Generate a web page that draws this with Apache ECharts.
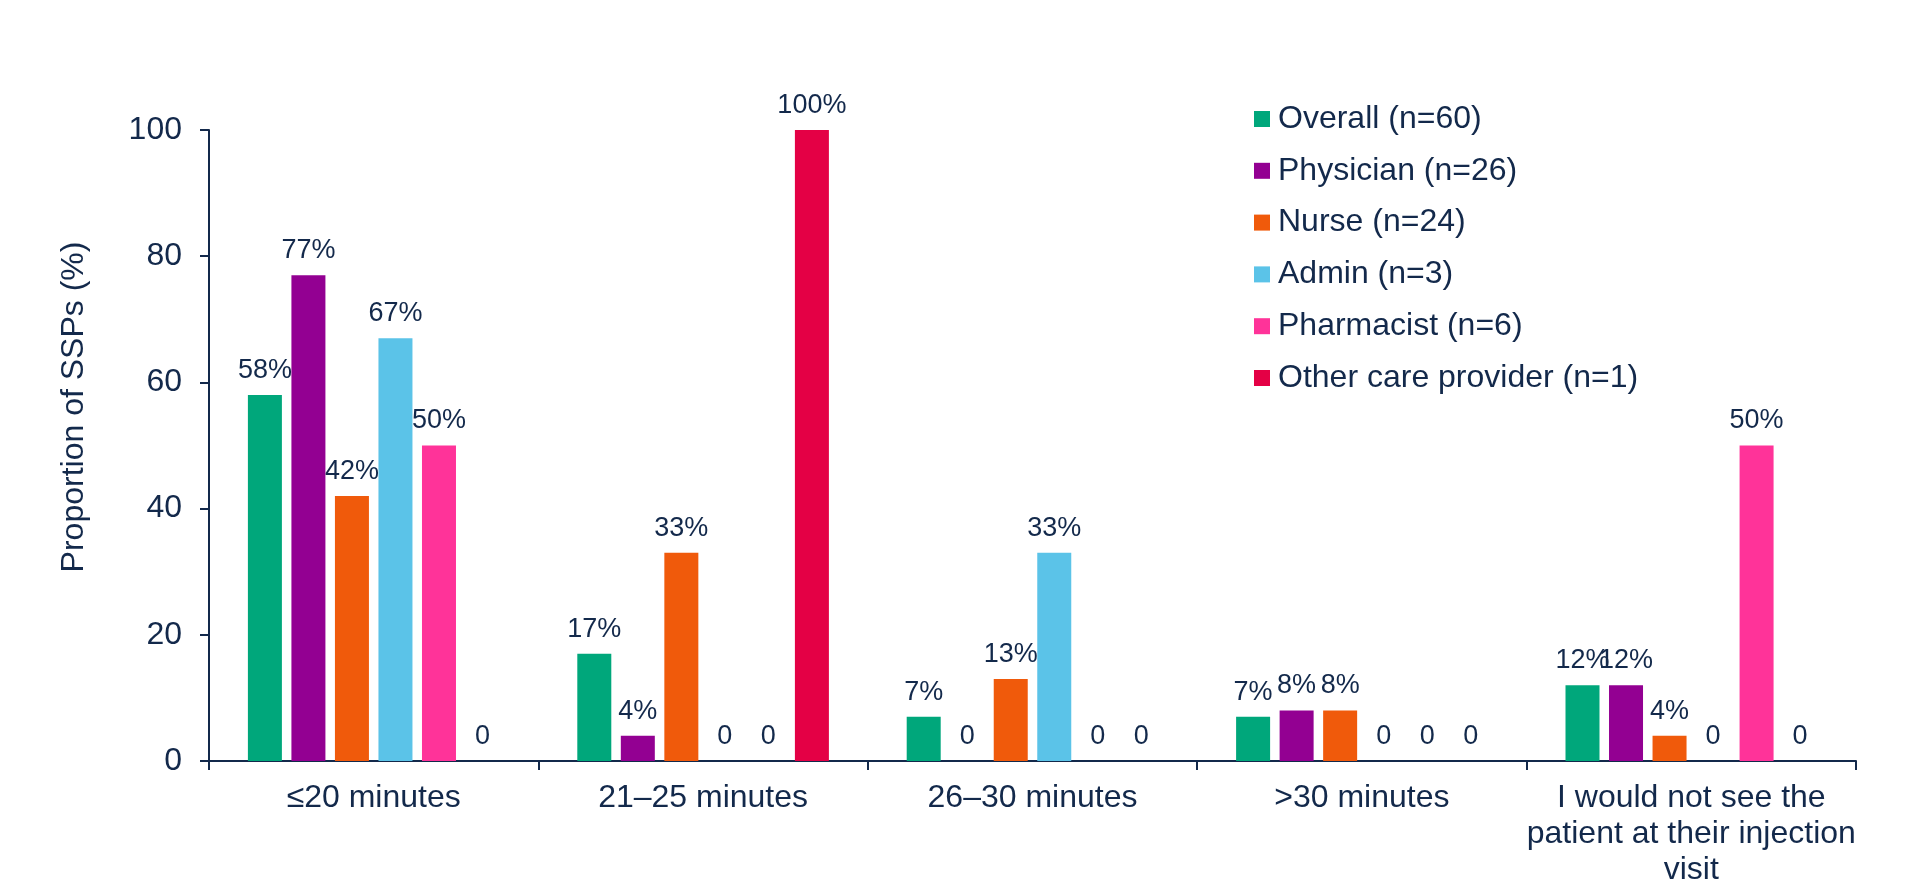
<!DOCTYPE html>
<html>
<head>
<meta charset="utf-8">
<title>Proportion of SSPs by time</title>
<script src="https://cdn.jsdelivr.net/npm/echarts@6/dist/echarts.min.js"></script>
<style>
  html, body { margin: 0; padding: 0; background: #ffffff; }
  #chart { width: 1927px; height: 892px; }
</style>
</head>
<body>
<div id="chart"></div>
<script>
// Time categories (x axis)
const categories = [
  '≤20 minutes',
  '21–25 minutes',
  '26–30 minutes',
  '>30 minutes',
  'I would not see the\npatient at their injection\nvisit'
];

// Respondent groups (legend order)
const groupNames = [
  'Overall (n=60)',
  'Physician (n=26)',
  'Nurse (n=24)',
  'Admin (n=3)',
  'Pharmacist (n=6)',
  'Other care provider (n=1)'
];

// Percentage of respondents per category, one array per group
const overall    = [58, 17, 7, 7, 12];
const physician  = [77, 4, 0, 8, 12];
const nurse      = [42, 33, 13, 8, 4];
const admin      = [67, 0, 33, 0, 0];
const pharmacist = [50, 0, 0, 0, 50];
const otherCare  = [0, 100, 0, 0, 0];

// Y axis ticks
const yTicks = [0, 20, 40, 60, 80, 100];

const groupValues = [overall, physician, nurse, admin, pharmacist, otherCare];
const groupColors = ['#00a77b', '#930092', '#f05a0b', '#5bc3e8', '#ff3399', '#e40045'];

const ink = '#13294b';
const fontFamily = '"Liberation Sans", Arial, sans-serif';

const series = groupNames.map((name, i) => ({
  name: name,
  type: 'bar',
  data: groupValues[i],
  barWidth: 34,
  barGap: '28%',
  itemStyle: { color: groupColors[i] },
  label: {
    show: true,
    position: 'top',
    distance: 11,
    color: ink,
    fontSize: 27,
    fontFamily: fontFamily,
    formatter: p => (p.value === 0 ? '0' : p.value + '%')
  }
}));

const chart = echarts.init(document.getElementById('chart'), null, { renderer: 'canvas' });

chart.setOption({
  animation: false,
  backgroundColor: '#ffffff',
  grid: { left: 209, right: 71, top: 130, bottom: 131, containLabel: false },
  legend: {
    orient: 'vertical',
    left: 1254,
    top: 102,
    padding: 0,
    itemWidth: 16,
    itemHeight: 16,
    itemGap: 17.8,
    icon: 'rect',
    data: groupNames,
    textStyle: {
      color: ink,
      fontSize: 32,
      lineHeight: 34,
      fontFamily: fontFamily,
      padding: [0, 0, 0, 3]
    }
  },
  graphic: [{
    type: 'text',
    x: 74,
    y: 407,
    rotation: Math.PI / 2,
    style: {
      text: 'Proportion of SSPs (%)',
      fill: ink,
      font: '32px "Liberation Sans", Arial, sans-serif',
      textAlign: 'center',
      textVerticalAlign: 'middle'
    }
  }],
  xAxis: {
    type: 'category',
    data: categories,
    axisLine: { lineStyle: { color: ink, width: 2 } },
    axisTick: { show: true, length: 9, lineStyle: { color: ink, width: 2 } },
    axisLabel: {
      color: ink,
      fontSize: 32,
      lineHeight: 36,
      fontFamily: fontFamily,
      margin: 19,
      interval: 0
    }
  },
  yAxis: {
    type: 'value',
    min: yTicks[0],
    max: yTicks[yTicks.length - 1],
    interval: yTicks[1] - yTicks[0],
    splitLine: { show: false },
    axisLine: { show: true, lineStyle: { color: ink, width: 2 } },
    axisTick: { show: true, length: 9, lineStyle: { color: ink, width: 2 } },
    axisLabel: {
      color: ink,
      fontSize: 32,
      fontFamily: fontFamily,
      margin: 27
    }
  },
  series: series
});
</script>
</body>
</html>
